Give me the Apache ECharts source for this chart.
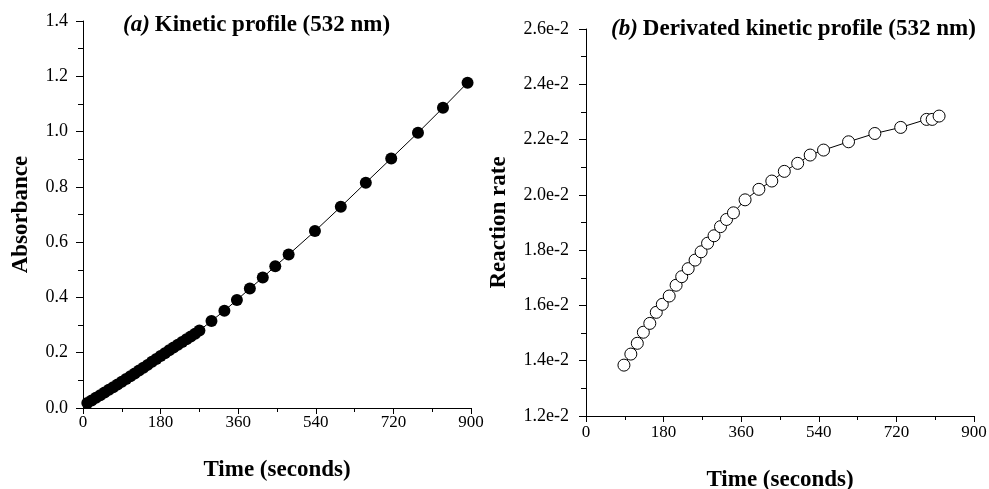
<!DOCTYPE html>
<html>
<head>
<meta charset="utf-8">
<script src="https://cdn.jsdelivr.net/npm/echarts@6/dist/echarts.min.js"></script>
<style>html,body{margin:0;padding:0;background:#fff;}#c{width:989px;height:489px;}</style>
</head>
<body>
<div id="c"></div>
<script>
// Panel (a): kinetic profile
const timeA = [10,20,30,40,50,60,70,80,90,100,110,120,130,140,150,160,170,180,190,200,210,220,230,240,250,260,270,
  298,328,357,387,417,446,477,538,598,656,715,777,835,892];
const absA = [0.018,0.027,0.037,0.046,0.056,0.066,0.075,0.085,0.095,0.105,0.115,0.125,0.136,0.146,0.156,0.167,0.177,0.188,0.198,0.209,0.219,0.229,0.239,0.249,0.259,0.269,0.280,
  0.315,0.352,0.391,0.432,0.472,0.513,0.555,0.640,0.728,0.815,0.903,0.996,1.086,1.177];
// Panel (b): derivated kinetic profile
const timeB = [88,104,119,133,148,163,177,193,209,222,237,253,267,282,297,312,326,342,369,401,431,460,491,520,551,609,670,730,790,803,819];
const rateB = [0.01384,0.01424,0.01463,0.01503,0.01535,0.01575,0.01604,0.01634,0.01673,0.01704,0.01733,0.01764,0.01794,0.01825,0.01852,0.01885,0.01911,0.01935,0.01982,0.02020,0.02050,0.02085,0.02114,0.02144,0.02162,0.02192,0.02222,0.02244,0.02273,0.02273,0.02285];
// Tick labels
const xTicks = [0,180,360,540,720,900];
const yTicksA = ['0.0','0.2','0.4','0.6','0.8','1.0','1.2','1.4'];
const yTicksB = ['1.2e-2','1.4e-2','1.6e-2','1.8e-2','2.0e-2','2.2e-2','2.4e-2','2.6e-2'];

const FONT = '"Liberation Serif", "Times New Roman", serif';
const ink = '#000';

function xAxis(gi, margin, gap) {
  return {
    type: 'value', gridIndex: gi, min: 0, max: 900, interval: 180,
    name: 'Time (seconds)', nameLocation: 'middle', nameGap: gap,
    nameTextStyle: {fontFamily: FONT, fontWeight: 'bold', fontSize: 23, color: ink},
    axisLine: {show: true, onZero: false, lineStyle: {color: ink, width: 1}},
    axisTick: {show: true, inside: false, length: 6, lineStyle: {color: ink}},
    minorTick: {show: true, splitNumber: 2, length: 4, lineStyle: {color: ink}},
    splitLine: {show: false},
    axisLabel: {fontFamily: FONT, fontSize: 17, color: ink, margin: margin,
      formatter: v => String(xTicks[Math.round(v / 180)])}
  };
}

function titleRich() {
  return {rich: {
    i: {fontFamily: FONT, fontSize: 23, fontWeight: 'bold', fontStyle: 'italic', color: ink},
    b: {fontFamily: FONT, fontSize: 23, fontWeight: 'bold', color: ink}}};
}

const option = {
  animation: false,
  backgroundColor: '#fff',
  title: [
    {text: '{i|(a)} {b|Kinetic profile (532 nm)}', left: 123, top: 14, padding: 0, textStyle: titleRich()},
    {text: '{i|(b)} {b|Derivated kinetic profile (532 nm)}', left: 611, top: 18, padding: 0, textStyle: titleRich()}
  ],
  grid: [
    {left: 83, top: 21, width: 388, height: 387, containLabel: false, outerBoundsMode: 'none'},
    {left: 586, top: 29, width: 388, height: 387, containLabel: false, outerBoundsMode: 'none'}
  ],
  xAxis: [xAxis(0, 6, 51), xAxis(1, 8, 53)],
  yAxis: [
    {type: 'value', gridIndex: 0, min: 0, max: 1.4, interval: 0.2,
     name: 'Absorbance', nameLocation: 'middle', nameGap: 50,
     nameTextStyle: {fontFamily: FONT, fontWeight: 'bold', fontSize: 23, color: ink},
     axisLine: {show: true, onZero: false, lineStyle: {color: ink, width: 1}},
     axisTick: {show: true, inside: false, length: 7, lineStyle: {color: ink}},
     minorTick: {show: true, splitNumber: 2, length: 5, lineStyle: {color: ink}},
     splitLine: {show: false},
     axisLabel: {fontFamily: FONT, fontSize: 18, color: ink, margin: 15,
       formatter: v => yTicksA[Math.round(v / 0.2)]}},
    {type: 'value', gridIndex: 1, min: 0.012, max: 0.026, interval: 0.002,
     name: 'Reaction rate', nameLocation: 'middle', nameGap: 75,
     nameTextStyle: {fontFamily: FONT, fontWeight: 'bold', fontSize: 23, color: ink},
     axisLine: {show: true, onZero: false, lineStyle: {color: ink, width: 1}},
     axisTick: {show: true, inside: false, length: 7, lineStyle: {color: ink}},
     minorTick: {show: true, splitNumber: 2, length: 5, lineStyle: {color: ink}},
     splitLine: {show: false},
     axisLabel: {fontFamily: FONT, fontSize: 18, color: ink, margin: 17,
       formatter: v => yTicksB[Math.round((v - 0.012) / 0.002)]}}
  ],
  series: [
    {type: 'line', xAxisIndex: 0, yAxisIndex: 0,
     data: timeA.map((t, i) => [t, absA[i]]),
     symbol: 'circle', symbolSize: 12, showAllSymbol: true,
     lineStyle: {color: ink, width: 1},
     itemStyle: {color: ink, borderColor: ink, borderWidth: 0}},
    {type: 'line', xAxisIndex: 1, yAxisIndex: 1,
     data: timeB.map((t, i) => [t, rateB[i]]),
     symbol: 'circle', symbolSize: 12, showAllSymbol: true,
     lineStyle: {color: ink, width: 1},
     itemStyle: {color: '#fff', borderColor: ink, borderWidth: 1}}
  ]
};
const chart = echarts.init(document.getElementById('c'), null, {renderer: 'canvas'});
chart.setOption(option);
</script>
</body>
</html>
